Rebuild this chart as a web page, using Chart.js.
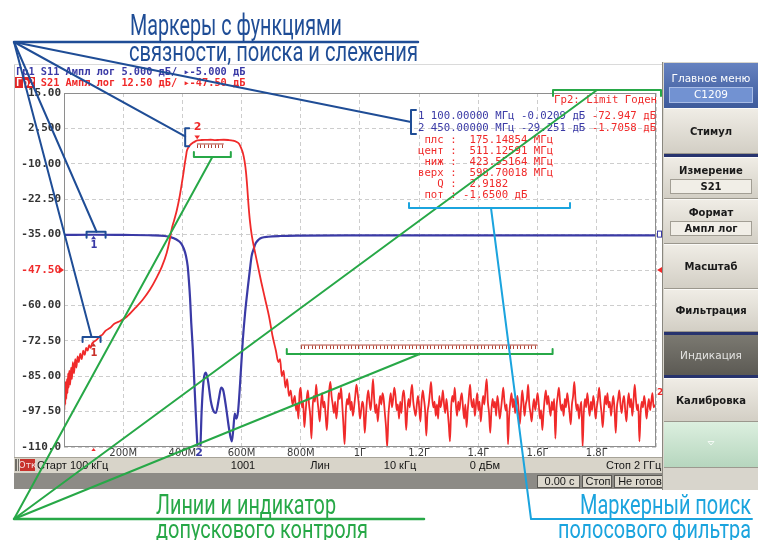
<!DOCTYPE html>
<html>
<head>
<meta charset="utf-8">
<title>S21 / S11</title>
<script src="https://cdn.jsdelivr.net/npm/chart.js@4.4.1/dist/chart.umd.min.js"></script>
<style>
  html, body { margin: 0; padding: 0; background: #fff; overflow: hidden; }
  canvas { display: block; }
</style>
</head>
<body>
<canvas id="vna" width="758" height="540"></canvas>
<script>
// частота в МГц, уровни в дБ
const xTickValues = [0.1, 200, 400, 600, 800, 1000, 1200, 1400, 1600, 1800, 2000];
const xTickLabels = ["", "200M", "400M", "600M", "800M", "1Г", "1.2Г", "1.4Г", "1.6Г", "1.8Г", ""];
const yTickValues = [15, 2.5, -10, -22.5, -35, -47.5, -60, -72.5, -85, -97.5, -110];
const yTickLabels = ["15.00", "2.500", "-10.00", "-22.50", "-35.00", "-47.50", "-60.00", "-72.50", "-85.00", "-97.50", "-110.0"];

// Гр1 S11 (5 дБ/дел, опорный -5 дБ)
const s11Freq = [0.1, 100, 200, 300, 340, 360, 380, 395, 405, 412, 418, 422, 426, 430, 435, 440, 445, 450, 455, 460,
  465, 472, 479, 486, 496, 506, 513, 524, 531, 538, 548, 558, 567, 572, 577, 582, 588, 595, 604, 612,
  621, 628, 634, 641, 648, 658, 668, 690, 730, 800, 1000, 1500, 2000];
const s11Db = [-0.03, -0.02, -0.05, -0.1, -0.2, -0.35, -0.7, -1.2, -2, -3, -4.5, -6.5, -9, -12.5, -16, -20.5, -25, -29.25, -32, -31,
  -25, -20.5, -19.5, -20.5, -23.5, -25, -25.2, -23, -21.6, -22, -24.5, -27.5, -29.2, -27.5, -25.3, -26, -25, -21, -15, -11,
  -7.5, -5, -3, -2, -1.2, -0.7, -0.45, -0.3, -0.2, -0.15, -0.12, -0.1, -0.1];

// Гр2 S21 (12.5 дБ/дел, опорный -47.5 дБ) до шумового участка
const s21Freq = [0.1, 1.5, 3, 4.5, 6, 8, 10, 12, 14, 16, 18, 21, 24, 27, 30, 34, 38, 42, 46, 50,
  55, 60, 65, 70, 75, 80, 85, 90, 95, 100, 110, 120, 130, 140, 155, 170, 190, 212, 240, 266,
  290, 314, 330, 347, 357, 364, 372, 381, 390, 398, 404, 408, 412, 415, 420, 425, 435, 445, 450, 465,
  480, 495, 511, 525, 540, 555, 570, 582, 592, 599, 604, 610, 615, 619, 623, 628, 634, 645, 655, 667,
  680, 693, 705, 716, 724, 730, 736, 742, 748, 754, 760, 766, 772];
const s21Db = [-72.5, -97, -89, -95, -87, -93, -86, -91, -84, -89, -83, -88, -82, -86, -80, -84, -79, -82, -78, -80,
  -77, -79, -76, -77.5, -75, -76, -74, -75, -73.5, -72.9, -72.2, -71, -70.3, -69, -68, -66.5, -65.5, -64, -61, -58,
  -54.5, -50, -46.5, -41.5, -37, -33, -30, -26.5, -22, -17, -13, -10, -7.5, -5.5, -4.3, -3.5, -2.6, -2, -1.71, -1.6,
  -1.55, -1.5, -1.65, -1.55, -1.5, -1.6, -1.8, -2.2, -3, -4.6, -6, -9, -13, -18, -24, -30, -35, -41, -46, -52,
  -58, -64, -71, -76, -80, -79, -85, -83, -89, -86, -92, -90, -95];

// шумовой участок S21: точки развертки с шагом 4 МГц от 780 МГц
const noiseStartMHz = 780;
const noiseStepMHz = 4;
const s21NoiseDb = [
  -92, -97, -95, -100, -91, -89, -96, -94, -103, -98, -93, -90, -95, -99, -107, -96, -92, -94, -88, -93, -97, -101, -95, -91, -96,
  -94, -99, -104, -97, -90, -87, -92, -95, -98, -94, -100, -96, -91, -93, -89, -95, -102, -109, -98, -93, -95, -91, -97, -94, -99,
  -96, -92, -88, -91, -95, -100, -97, -94, -96, -105, -99, -93, -90, -94, -97, -92, -86, -93, -98, -95, -101, -96, -92, -95, -91,
  -93, -98, -103, -110, -99, -94, -91, -96, -93, -89, -92, -97, -95, -100, -94, -98, -92, -90, -95, -104, -97, -93, -96, -91, -88,
  -94, -97, -99, -95, -92, -96, -101, -94, -90, -93, -97, -106, -98, -95, -91, -87, -93, -96, -94, -99, -95, -100, -92, -96, -94,
  -90, -95, -98, -93, -97, -102, -108, -96, -92, -94, -89, -95, -99, -94, -97, -93, -91, -96, -100, -95, -103, -97, -92, -88, -94,
  -96, -93, -99, -95, -91, -97, -94, -101, -96, -92, -95, -90, -86, -94, -98, -105, -97, -93, -96, -94, -99, -92, -95, -100, -97,
  -93, -89, -94, -97, -95, -109, -99, -94, -91, -96, -93, -98, -95, -92, -97, -102, -96, -90, -94, -99, -95, -93, -88, -95, -98,
  -101, -96, -93, -97, -94, -91, -95, -100, -97, -104, -98, -93, -90, -95, -92, -96, -99, -94, -97, -93, -107, -96, -92, -89, -94,
  -97, -95, -99, -93, -96, -91, -94, -98, -102, -95, -92, -87, -93, -97, -95, -100, -96, -94, -110, -98, -93, -96, -91, -95, -99,
  -94, -97, -92, -95, -100, -96, -93, -89, -94, -98, -103, -97, -92, -95, -91, -96, -94, -99, -95, -92, -97, -105, -96, -93, -90,
  -95, -98, -94, -92, -97, -101, -95, -91, -96, -93, -99, -94, -88, -93, -97, -95, -108, -98, -94, -96, -92, -95, -100, -96, -93,
  -97, -94, -91, -96, -95];

// линии допускового контроля
const limitPassFreq = [449, 540];
const limitPassDb = [-3, -3];
const limitStopFreq = [800, 1600];
const limitStopDb = [-74, -74];

// маркеры
const markerFreqMHz = [100, 450];
const markerS11 = [-0.0209, -29.251];
const markerS21 = [-72.947, -1.7058];
const bwLabels = ["плс", "цент", "ниж", "верх", "Q", "пот"];
const bwValues = ["175.14854 МГц", "511.12591 МГц", "423.55164 МГц", "598.70018 МГц", "2.9182", "-1.6500 дБ"];

const BLUE = '#3a3aa6', RED = '#f02a2a', ANN_BLUE = '#1f4d96', ANN_GREEN = '#27a847', ANN_CYAN = '#1ba4de';
const MONO = '"DejaVu Sans Mono", monospace';

const s11Points = s11Freq.map((f, i) => ({ x: f, y: s11Db[i] }));
const s21Points = s21Freq.map((f, i) => ({ x: f, y: s21Db[i] }))
  .concat(s21NoiseDb.map((v, i) => ({ x: noiseStartMHz + i * noiseStepMHz, y: v })));

function grad(ctx, y0, y1, c0, c1) {
  const g = ctx.createLinearGradient(0, y0, 0, y1);
  g.addColorStop(0, c0);
  g.addColorStop(1, c1);
  return g;
}

function condText(ctx, txt, x, y, w, size, color) {
  ctx.save();
  ctx.font = size + 'px Roboto';
  const k = w / ctx.measureText(txt).width;
  ctx.translate(x, y);
  ctx.scale(k, 1);
  ctx.fillStyle = color;
  ctx.textAlign = 'left';
  ctx.textBaseline = 'alphabetic';
  ctx.fillText(txt, 0, 0);
  ctx.restore();
}

function line(ctx, pts, color, w) {
  ctx.strokeStyle = color;
  ctx.lineWidth = w;
  ctx.beginPath();
  ctx.moveTo(pts[0][0], pts[0][1]);
  for (let i = 1; i < pts.length; i++) ctx.lineTo(pts[i][0], pts[i][1]);
  ctx.stroke();
}

function tri(ctx, x, y, s, up, color) {
  ctx.fillStyle = color;
  ctx.beginPath();
  if (up) { ctx.moveTo(x, y); ctx.lineTo(x - s, y + s * 1.4); ctx.lineTo(x + s, y + s * 1.4); }
  else { ctx.moveTo(x, y); ctx.lineTo(x - s, y - s * 1.4); ctx.lineTo(x + s, y - s * 1.4); }
  ctx.closePath();
  ctx.fill();
}

function comb(ctx, xs, ys, f, d) {
  const x0 = xs.getPixelForValue(f[0]), x1 = xs.getPixelForValue(f[1]);
  const y = Math.round(ys.getPixelForValue(d[0])) + 0.5;
  ctx.strokeStyle = '#b04538';
  ctx.lineWidth = 1;
  ctx.beginPath();
  for (let x = x0; x <= x1 + 0.1; x += 3.6) {
    ctx.moveTo(Math.round(x) + 0.5, y);
    ctx.lineTo(Math.round(x) + 0.5, y + 3.5);
  }
  ctx.stroke();
}

function fmtDb(v) {
  return Math.abs(v) < 1 ? v.toFixed(4) : v.toPrecision(5);
}

function drawButton(ctx, x, y0, y1, label, sub) {
  ctx.fillStyle = grad(ctx, y0, y1, '#f0ede6', '#d2cec4');
  ctx.fillRect(x, y0, 94, y1 - y0);
  ctx.fillStyle = '#fbfaf7';
  ctx.fillRect(x, y0, 94, 1);
  ctx.fillStyle = '#9b978d';
  ctx.fillRect(x, y1 - 1, 94, 1);
  ctx.fillStyle = '#1a1a1a';
  ctx.font = 'bold 10px "DejaVu Sans"';
  ctx.textAlign = 'center';
  ctx.textBaseline = 'middle';
  if (sub) {
    ctx.fillText(label, x + 47, y0 + 14);
    ctx.fillStyle = '#f1eee7';
    ctx.fillRect(x + 6, y0 + 22, 82, 15);
    ctx.strokeStyle = '#a29e94';
    ctx.lineWidth = 1;
    ctx.strokeRect(x + 6.5, y0 + 22.5, 81, 14);
    ctx.fillStyle = '#1a1a1a';
    ctx.fillText(sub, x + 47, y0 + 30);
  } else {
    ctx.fillText(label, x + 47, (y0 + y1) / 2 + 1);
  }
}

const chromePlugin = {
  id: 'chrome',
  beforeDraw(chart) {
    const ctx = chart.ctx;
    ctx.save();
    ctx.fillStyle = '#fff';
    ctx.fillRect(0, 0, 758, 540);

    // рамка экрана
    ctx.fillStyle = '#c4c4c4';
    ctx.fillRect(14, 64, 1, 410);
    ctx.fillStyle = '#dadada';
    ctx.fillRect(14, 64, 648, 1);

    // заголовки трасс
    ctx.font = 'bold 10.3px ' + MONO;
    ctx.textAlign = 'left';
    ctx.textBaseline = 'middle';
    ctx.fillStyle = BLUE;
    ctx.fillText('Гр1 S11 Ампл лог 5.000 дБ/ ▸-5.000 дБ', 16, 72);
    ctx.fillStyle = '#e02626';
    ctx.fillRect(15, 77, 20, 11);
    ctx.fillStyle = '#fff';
    ctx.fillText('Гр2', 16, 83);
    ctx.fillStyle = RED;
    ctx.fillText(' S21 Ампл лог 12.50 дБ/ ▸-47.50 дБ', 16 + ctx.measureText('Гр2').width, 83);

    // строка состояния
    ctx.fillStyle = '#d8d4c9';
    ctx.fillRect(14, 457, 650, 16);
    ctx.fillStyle = '#a7a398';
    ctx.fillRect(14, 457, 650, 1);
    ctx.fillStyle = '#6f6c66';
    ctx.fillRect(15, 459, 2, 12);
    ctx.fillRect(18, 459, 1, 12);
    ctx.fillStyle = '#c8322c';
    ctx.fillRect(20, 459, 15, 12);
    ctx.font = '9px "DejaVu Sans"';
    ctx.fillStyle = '#f3dede';
    ctx.textAlign = 'center';
    ctx.fillText('Отк', 27.5, 465.5);
    ctx.fillStyle = '#151515';
    ctx.font = '11px "Liberation Sans"';
    ctx.textAlign = 'left';
    ctx.fillText('Старт 100 кГц', 37, 465.5);
    ctx.fillText('Стоп 2 ГГц', 606, 465.5);
    ctx.textAlign = 'center';
    ctx.fillText('1001', 243, 465.5);
    ctx.fillText('Лин', 320, 465.5);
    ctx.fillText('10 кГц', 400, 465.5);
    ctx.fillText('0 дБм', 485, 465.5);

    ctx.fillStyle = '#8d8b86';
    ctx.fillRect(14, 473, 650, 16);
    [[537, 580, '0.00 с'], [582, 612, 'Стоп'], [614, 664, 'Не готов']].forEach(b => {
      ctx.fillStyle = '#dcd8cd';
      ctx.fillRect(b[0], 475, b[1] - b[0], 13);
      ctx.strokeStyle = '#5a5853';
      ctx.lineWidth = 1;
      ctx.strokeRect(b[0] + 0.5, 475.5, b[1] - b[0] - 1, 12);
      ctx.fillStyle = '#151515';
      ctx.fillText(b[2], (b[0] + b[1]) / 2 + 1, 482);
    });

    // правое меню
    const mx = 664;
    ctx.fillStyle = '#d8d5cc';
    ctx.fillRect(mx - 2, 62, 96, 428);
    ctx.fillStyle = '#8a877f';
    ctx.fillRect(mx - 2, 62, 1, 428);
    ctx.fillStyle = grad(ctx, 63, 108, '#6682c0', '#3d5a9b');
    ctx.fillRect(mx, 63, 94, 45);
    ctx.fillStyle = '#fff';
    ctx.font = '10.5px "DejaVu Sans"';
    ctx.textAlign = 'center';
    ctx.fillText('Главное меню', mx + 47, 79);
    ctx.fillStyle = '#7292d2';
    ctx.fillRect(mx + 5, 87, 84, 16);
    ctx.strokeStyle = '#a8bce6';
    ctx.strokeRect(mx + 5.5, 87.5, 83, 15);
    ctx.fillStyle = '#fff';
    ctx.fillText('C1209', mx + 47, 95.5);

    drawButton(ctx, mx, 108, 154, 'Стимул');
    drawButton(ctx, mx, 157, 199, 'Измерение', 'S21');
    drawButton(ctx, mx, 199, 244, 'Формат', 'Ампл лог');
    drawButton(ctx, mx, 244, 289, 'Масштаб');
    drawButton(ctx, mx, 289, 332, 'Фильтрация');
    drawButton(ctx, mx, 378, 422, 'Калибровка');

    ctx.fillStyle = '#27336e';
    ctx.fillRect(mx, 154, 94, 3);
    ctx.fillRect(mx, 332, 94, 3);
    ctx.fillRect(mx, 375, 94, 3);

    ctx.fillStyle = grad(ctx, 335, 375, '#7b7971', '#5c5a54');
    ctx.fillRect(mx, 335, 94, 40);
    ctx.fillStyle = '#e4e4e2';
    ctx.font = '10.5px "DejaVu Sans"';
    ctx.fillText('Индикация', mx + 47, 356);

    ctx.fillStyle = grad(ctx, 422, 467, '#dcefdf', '#b6d6be');
    ctx.fillRect(mx, 422, 94, 45);
    ctx.strokeStyle = '#f4faf5';
    ctx.lineWidth = 1;
    ctx.beginPath();
    ctx.moveTo(mx + 44, 441.5); ctx.lineTo(mx + 50, 441.5); ctx.lineTo(mx + 47, 445);
    ctx.closePath();
    ctx.stroke();
    ctx.fillStyle = '#9c998f';
    ctx.fillRect(mx, 467, 94, 1);
    ctx.restore();
  },
  afterDraw(chart) {
    const ctx = chart.ctx, xs = chart.scales.x, ys = chart.scales.y, y2 = chart.scales.y2, a = chart.chartArea;
    ctx.save();

    // рамка графика
    ctx.strokeStyle = '#8e8e8e';
    ctx.lineWidth = 1;
    ctx.strokeRect(Math.round(a.left) + 0.5, Math.round(a.top) + 0.5, Math.round(a.right - a.left) - 1, Math.round(a.bottom - a.top) - 1);

    // опорный уровень Гр2
    const yRef = ys.getPixelForValue(-47.5);
    ctx.fillStyle = RED;
    ctx.beginPath();
    ctx.moveTo(59, yRef - 3.5); ctx.lineTo(64, yRef); ctx.lineTo(59, yRef + 3.5);
    ctx.fill();
    ctx.beginPath();
    ctx.moveTo(662, yRef - 3); ctx.lineTo(657, yRef); ctx.lineTo(662, yRef + 3);
    ctx.fill();
    ctx.strokeStyle = BLUE;
    ctx.strokeRect(657.5, y2.getPixelForValue(0) - 3.5, 4, 6);
    ctx.fillStyle = RED;
    ctx.font = 'bold 9px "DejaVu Sans"';
    ctx.textAlign = 'left';
    ctx.textBaseline = 'middle';
    ctx.fillText('2', 657, 393);

    // линии допуска (гребёнка)
    comb(ctx, xs, ys, limitPassFreq, limitPassDb);
    comb(ctx, xs, ys, limitStopFreq, limitStopDb);

    // маркеры
    const m1x = xs.getPixelForValue(markerFreqMHz[0]);
    const m2x = xs.getPixelForValue(markerFreqMHz[1]);
    const m1s11 = y2.getPixelForValue(markerS11[0]);
    const m1s21 = ys.getPixelForValue(markerS21[0]);
    const m2s21 = ys.getPixelForValue(markerS21[1]);
    ctx.font = 'bold 10px "DejaVu Sans"';
    ctx.textAlign = 'center';
    tri(ctx, m1x, m1s11 + 1, 2.5, true, BLUE);
    ctx.fillStyle = BLUE;
    ctx.fillText('1', m1x + 0.5, m1s11 + 11);
    tri(ctx, m1x, m1s21 + 1, 2.5, true, '#c8302a');
    ctx.fillStyle = '#c8302a';
    ctx.fillText('1', m1x + 0.5, m1s21 + 11);
    tri(ctx, m2x, m2s21 - 1, 2.8, false, RED);
    ctx.fillStyle = RED;
    ctx.font = 'bold 11px "DejaVu Sans"';
    ctx.fillText('2', m2x + 0.5, m2s21 - 13);
    ctx.fillStyle = BLUE;
    ctx.fillText('2', m2x + 2, a.bottom + 6);
    tri(ctx, m1x, a.bottom + 1, 2.2, true, RED);

    // таблица маркеров
    ctx.font = '10.7px ' + MONO;
    ctx.textAlign = 'left';
    ctx.textBaseline = 'middle';
    const tx = 418;
    markerFreqMHz.forEach((f, i) => {
      const head = (i + 1) + ' ' + f.toFixed(5) + ' МГц ' + fmtDb(markerS11[i]) + ' дБ ';
      ctx.fillStyle = BLUE;
      ctx.fillText(head, tx, 116 + i * 12);
      ctx.fillStyle = RED;
      ctx.fillText(fmtDb(markerS21[i]) + ' дБ', tx + ctx.measureText(head).width, 116 + i * 12);
    });
    ctx.fillStyle = RED;
    bwLabels.forEach((l, i) => {
      const v = bwValues[i];
      ctx.fillText(l.padStart(4) + ' : ' + (v[0] === '-' ? '' : ' ') + v, tx, 140 + i * 11);
    });
    ctx.textAlign = 'right';
    ctx.fillText('Гр2: Limit Годен', 657, 100);

    // --- пояснения ---
    ctx.lineCap = 'round';
    ctx.lineJoin = 'round';
    // синие: маркеры
    condText(ctx, 'Маркеры с функциями', 130, 35, 212, 29, ANN_BLUE);
    condText(ctx, 'связности, поиска и слежения', 129, 61, 289, 27, ANN_BLUE);
    line(ctx, [[14, 42], [418, 42]], ANN_BLUE, 2.5);
    const b1y = m1s11 - 3, b2y = m1s21 - 5;
    line(ctx, [[m1x - 7, b1y + 6], [m1x - 7, b1y], [m1x + 12, b1y], [m1x + 12, b1y + 6]], ANN_BLUE, 2);
    line(ctx, [[m1x - 11, b2y + 5], [m1x - 11, b2y], [m1x + 7, b2y], [m1x + 7, b2y + 5]], ANN_BLUE, 2);
    line(ctx, [[m2x - 8, m2s21 - 12], [m2x - 12, m2s21 - 12], [m2x - 12, m2s21 + 6], [m2x - 8, m2s21 + 6]], ANN_BLUE, 2);
    line(ctx, [[416, 110], [411, 110], [411, 134], [416, 134]], ANN_BLUE, 2);
    line(ctx, [[14, 42], [m1x + 3, b1y]], ANN_BLUE, 2);
    line(ctx, [[14, 42], [m1x - 2, b2y]], ANN_BLUE, 2);
    line(ctx, [[14, 42], [m2x - 12, m2s21 - 4]], ANN_BLUE, 2);
    line(ctx, [[14, 42], [411, 122]], ANN_BLUE, 2);

    // зелёные: допусковый контроль
    const pY = ys.getPixelForValue(limitPassDb[0]) + 13;
    const pX0 = xs.getPixelForValue(limitPassFreq[0]) - 3, pX1 = xs.getPixelForValue(limitPassFreq[1]) + 7;
    const sY = ys.getPixelForValue(limitStopDb[0]) + 9;
    const sX0 = xs.getPixelForValue(limitStopFreq[0]) - 14, sX1 = xs.getPixelForValue(limitStopFreq[1]) + 15;
    line(ctx, [[pX0, pY - 5], [pX0, pY], [pX1, pY], [pX1, pY - 5]], ANN_GREEN, 2);
    line(ctx, [[sX0, sY - 5], [sX0, sY], [sX1, sY], [sX1, sY - 5]], ANN_GREEN, 2);
    line(ctx, [[553, 96], [553, 90], [661, 90], [661, 96]], ANN_GREEN, 2);
    line(ctx, [[14, 519], [(pX0 + pX1) / 2, pY]], ANN_GREEN, 2);
    line(ctx, [[14, 519], [(sX0 + sX1) / 2, sY]], ANN_GREEN, 2);
    line(ctx, [[14, 519], [597, 90]], ANN_GREEN, 2);
    line(ctx, [[14, 519], [424, 519]], ANN_GREEN, 2.5);
    condText(ctx, 'Линии и индикатор', 156, 514, 180, 28, ANN_GREEN);
    condText(ctx, 'допускового контроля', 156, 538, 212, 26, ANN_GREEN);

    // голубые: поиск полосы
    line(ctx, [[409, 203], [409, 208], [570, 208], [570, 203]], ANN_CYAN, 2);
    line(ctx, [[491, 208], [531, 519], [752, 519]], ANN_CYAN, 2);
    condText(ctx, 'Маркерный поиск', 580, 514, 171, 28, ANN_CYAN);
    condText(ctx, 'полосового фильтра', 558, 538, 193, 26, ANN_CYAN);

    ctx.restore();
  }
};

new Chart(document.getElementById('vna').getContext('2d'), {
  type: 'line',
  data: {
    datasets: [
      {
        label: 'S21',
        data: s21Points,
        yAxisID: 'y',
        borderColor: RED,
        borderWidth: 1.8,
        pointRadius: 0,
        cubicInterpolationMode: 'monotone'
      },
      {
        label: 'S11',
        data: s11Points,
        yAxisID: 'y2',
        borderColor: BLUE,
        borderWidth: 2.2,
        pointRadius: 0,
        cubicInterpolationMode: 'monotone'
      },
      {
        label: 'Допуск полосы',
        data: limitPassFreq.map((f, i) => ({ x: f, y: limitPassDb[i] })),
        yAxisID: 'y',
        borderColor: '#b04538',
        borderWidth: 1,
        pointRadius: 0
      },
      {
        label: 'Допуск заграждения',
        data: limitStopFreq.map((f, i) => ({ x: f, y: limitStopDb[i] })),
        yAxisID: 'y',
        borderColor: '#b04538',
        borderWidth: 1,
        pointRadius: 0
      }
    ]
  },
  options: {
    responsive: false,
    animation: false,
    events: [],
    layout: { padding: { left: 14, top: 93, right: 102, bottom: 79 } },
    plugins: { legend: { display: false }, tooltip: { enabled: false } },
    scales: {
      x: {
        type: 'linear',
        min: 0.1,
        max: 2000,
        afterBuildTicks: s => { s.ticks = xTickValues.map(v => ({ value: v })); },
        afterFit: s => { s.height = 14; },
        grid: { color: '#cdcdcd', drawTicks: false },
        border: { display: false, dash: [4, 3] },
        ticks: {
          autoSkip: false,
          maxRotation: 0,
          padding: 0,
          color: '#3a3a3a',
          font: { family: 'DejaVu Sans', size: 10 },
          callback: (v, i) => xTickLabels[i]
        }
      },
      y: {
        min: -110,
        max: 15,
        afterBuildTicks: s => { s.ticks = yTickValues.map(v => ({ value: v })); },
        afterFit: s => { s.width = 50; },
        grid: { color: '#cdcdcd', drawTicks: false },
        border: { display: false, dash: [4, 3] },
        ticks: {
          autoSkip: false,
          padding: 3,
          color: c => c.index === 5 ? RED : '#333',
          font: { family: 'DejaVu Sans Mono', size: 11, weight: 'bold' },
          callback: (v, i) => yTickLabels[i]
        }
      },
      y2: {
        display: false,
        min: -30,
        max: 20
      }
    }
  },
  plugins: [chromePlugin]
});
</script>
</body>
</html>
